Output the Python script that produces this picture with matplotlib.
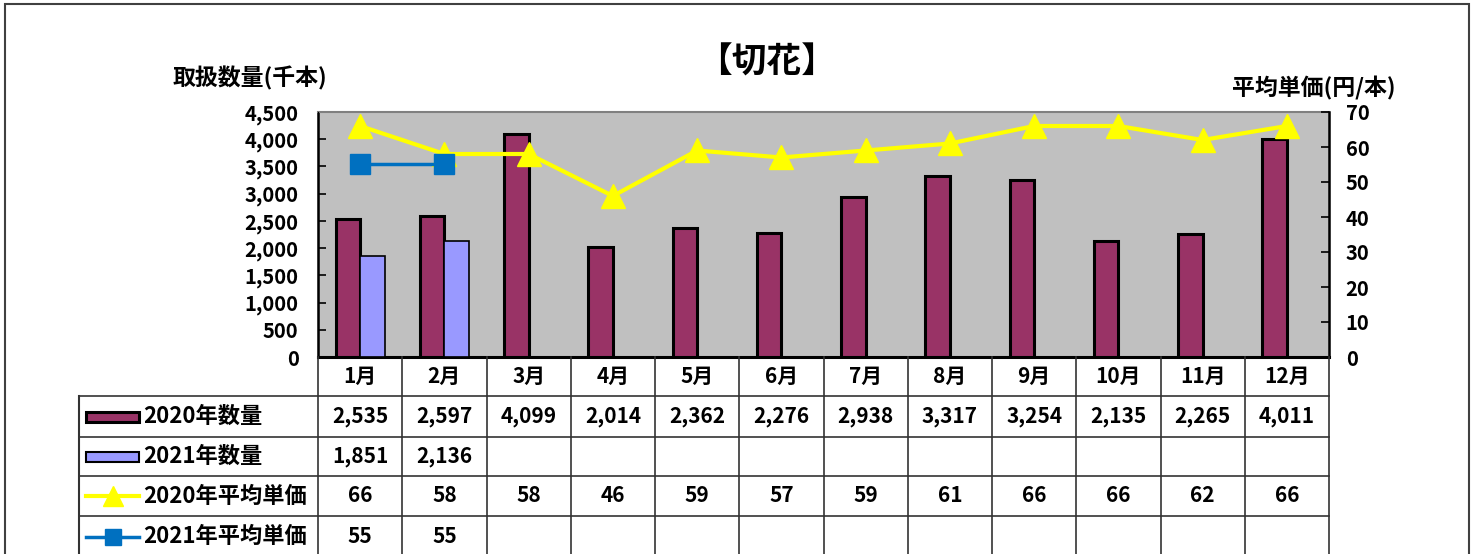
import matplotlib
matplotlib.use("Agg")
import matplotlib.pyplot as plt
from matplotlib.patches import Rectangle
import numpy as np

plt.rcParams['font.family'] = ['Noto Sans CJK JP', 'DejaVu Sans']
plt.rcParams['font.weight'] = 'bold'

# data
months = ["1月", "2月", "3月", "4月", "5月", "6月", "7月", "8月", "9月", "10月", "11月", "12月"]
qty_2020 = [2535, 2597, 4099, 2014, 2362, 2276, 2938, 3317, 3254, 2135, 2265, 4011]
qty_2021 = [1851, 2136]
price_2020 = [66, 58, 58, 46, 59, 57, 59, 61, 66, 66, 62, 66]
price_2021 = [55, 55]
row_labels = ["2020年数量", "2021年数量", "2020年平均単価", "2021年平均単価"]

c20 = "#993366"
c21 = "#9999FF"
cy = "#FFFF00"
cb = "#0070C0"

W, H = 1476, 554
fig = plt.figure(figsize=(W / 100, H / 100), dpi=100)

# outer frame
fig.patches.append(Rectangle((5 / W, -0.05), (1469 - 5) / W, 1.05 - 4 / H,
                             transform=fig.transFigure, fill=False,
                             ec="#404040", lw=1.5))

px_l, px_r, px_t, px_b = 318, 1329, 112, 357
ax = fig.add_axes([px_l / W, 1 - px_b / H, (px_r - px_l) / W, (px_b - px_t) / H])
ax.set_facecolor("#C0C0C0")
x = np.arange(len(months))
bw = 0.29
ax.bar(x - bw / 2, qty_2020, bw, color=c20, edgecolor="black", lw=2.2, zorder=3)
ax.bar(x[:len(qty_2021)] + bw / 2, qty_2021, bw, color=c21, edgecolor="black", lw=1.2, zorder=3)
ax.set_xlim(-0.5, 11.5)
ax.set_ylim(0, 4500)
ax.set_yticks(range(0, 4501, 500))
ax.set_yticklabels([f"{v:,}" for v in range(0, 4501, 500)])
ax.set_xticks([])
ax.tick_params(axis="y", direction="in", length=6, width=1.2, labelsize=14.5, pad=14)
for s in ["left", "right", "bottom"]:
    ax.spines[s].set_color("black")
ax.spines["left"].set_linewidth(1.8)
ax.spines["bottom"].set_linewidth(2.2)
ax.spines["top"].set_color("#808080")
ax.spines["top"].set_linewidth(1.5)

ax2 = ax.twinx()
ax2.plot(x, price_2020, color=cy, lw=3, marker="^", ms=17, mec=cy, zorder=4)
ax2.plot(x[:len(price_2021)], price_2021, color=cb, lw=2.5, marker="s", ms=15, mec=cb, zorder=5)
ax2.set_ylim(0, 70)
ax2.set_yticks(range(0, 71, 10))
ax2.tick_params(axis="y", direction="in", length=6, width=1.2, labelsize=14.5, pad=12)
ax2.spines["right"].set_linewidth(1.8)
ax2.spines["top"].set_visible(False)

fig.text(250 / W, 1 - 78 / H, "取扱数量(千本)", ha="center", va="center", fontsize=16.5, fontweight="bold")
fig.text(1314 / W, 1 - 88 / H, "平均単価(円/本)", ha="center", va="center", fontsize=16.5, fontweight="bold")
fig.text(767 / W, 1 - 62 / H, "【切花】", ha="center", va="center", fontsize=25, fontweight="bold")

# table below the plot, x in month units, y in pixels from plot bottom
col_px = (px_r - px_l) / 12.0
tab_left = 79
x0 = -0.5 - (px_l - tab_left) / col_px
tab = fig.add_axes([tab_left / W, 0, (px_r - tab_left) / W, (H - px_b) / H])
tab.set_xlim(x0, 11.5)
tab.set_ylim(H - px_b, 0)
tab.axis("off")
edges = [0, 39, 80, 119, 159, 200]
lc = "#333333"
for e in edges[1:-1]:
    tab.plot([x0, 11.5], [e, e], color=lc, lw=1.2, clip_on=False)
for i in range(13):
    tab.plot([i - 0.5, i - 0.5], [0, 200], color=lc, lw=1.2, clip_on=False)
tab.plot([x0, x0], [edges[1], 200], color=lc, lw=1.5, clip_on=False)

fs = 15
mid = lambda r: (edges[r] + edges[r + 1]) / 2
for i, m in enumerate(months):
    tab.text(i, mid(0), m, ha="center", va="center", fontsize=fs)
rows = [
    [f"{v:,}" for v in qty_2020],
    [f"{v:,}" for v in qty_2021],
    [str(v) for v in price_2020],
    [str(v) for v in price_2021],
]
for r, vals in enumerate(rows):
    for i, v in enumerate(vals):
        tab.text(i, mid(r + 1), v, ha="center", va="center", fontsize=fs)
    tab.text(x0 + (143 - tab_left) / col_px, mid(r + 1), row_labels[r],
             ha="left", va="center", fontsize=16)

# legend keys in label column
sx0 = x0 + (86 - tab_left) / col_px
sx1 = x0 + (139 - tab_left) / col_px
tab.add_patch(Rectangle((sx0, mid(1) - 5), sx1 - sx0, 10, fc=c20, ec="black", lw=2.2))
tab.add_patch(Rectangle((sx0, mid(2) - 5), sx1 - sx0, 10, fc=c21, ec="black", lw=1.5))
tab.plot([sx0, sx1], [mid(3), mid(3)], color=cy, lw=3)
tab.plot([(sx0 + sx1) / 2], [mid(3)], marker="^", color=cy, ms=14)
tab.plot([sx0, sx1], [mid(4), mid(4)], color=cb, lw=2.5)
tab.plot([(sx0 + sx1) / 2], [mid(4)], marker="s", color=cb, ms=11)

fig.savefig("out.png", dpi=100)
